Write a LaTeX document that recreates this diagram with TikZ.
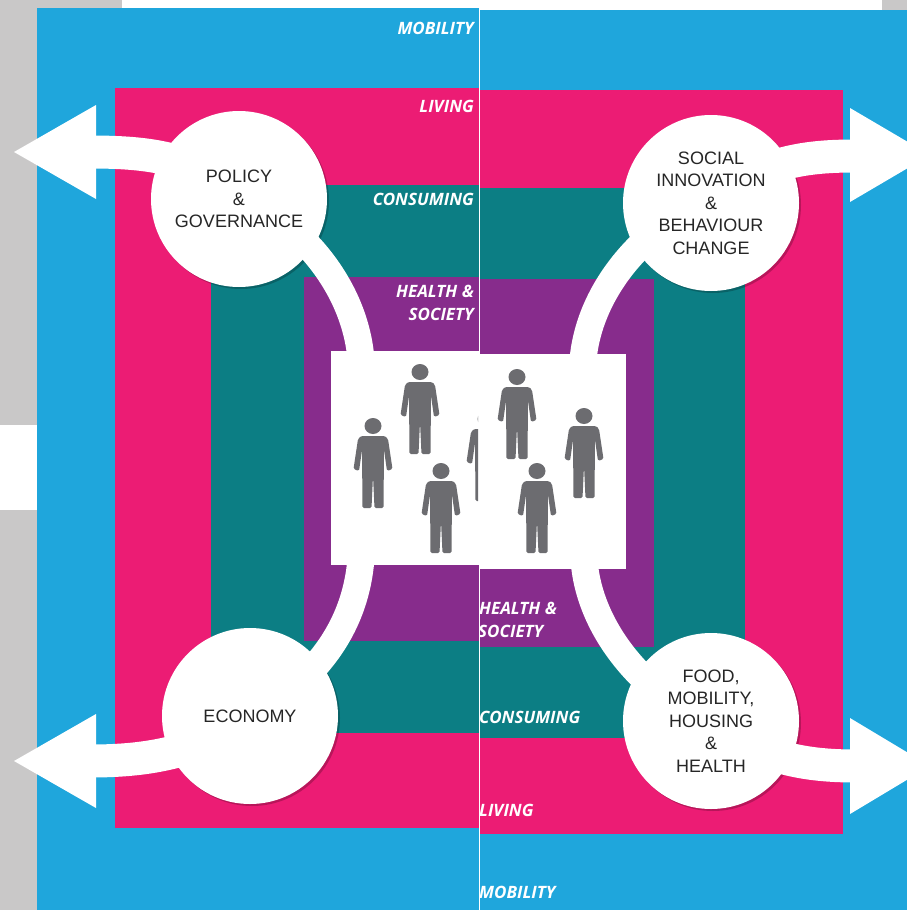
\documentclass[tikz,border=0pt]{standalone}
\usepackage{fontspec}
\setmainfont{Liberation Sans}
\newfontfamily\ringfont{Open Sans}
\pgfdeclarelayer{back}\pgfdeclarelayer{mid}
\pgfsetlayers{back,mid,main}
\definecolor{ringblue}{HTML}{1FA6DC}
\definecolor{ringpink}{HTML}{EC1C74}
\definecolor{ringteal}{HTML}{0C7E84}
\definecolor{ringpurple}{HTML}{872C8C}
\definecolor{margin}{HTML}{C9C8C8}
\definecolor{figure}{HTML}{6C6C70}
\tikzset{
  x=1pt,y=-1pt,
  topic/.style={circle,fill=white,minimum size=176pt,inner sep=0pt,align=center,text=black!85,
     font=\fontsize{18}{22.5}\selectfont},
  ringlabel/.style={text=white,inner sep=0pt,font=\ringfont\bfseries\itshape\fontsize{17}{23}\selectfont},
  band/.style={white,line width=27pt},
  shaft/.style={white,line width=33pt},
  head/.style={fill=white,draw=none},
  panel/.style={fill=white,draw=none,inner sep=0pt},
  pics/person/.style={code={
    \fill[figure] (0,0) ellipse (8.5 and 8);
    \fill[figure,rounded corners=1.5pt] (-12,10)--(12,10)--(15,13)--(19.5,43)--(14,45)--(11,24)--(10.5,82)--(1.5,82)--(0,50)--(-1.5,82)--(-10.5,82)--(-11,24)--(-14,45)--(-19.5,43)--(-15,13)--cycle;
  }}
}
\begin{document}
\begin{tikzpicture}
\useasboundingbox (0,0) rectangle (907,910);
\begin{pgfonlayer}{back}
  \fill[white] (0,0) rectangle (907,910);
  \fill[margin] (0,0) rectangle (37,425);
  \fill[margin] (0,510) rectangle (37,910);
  \fill[margin] (37,0) rectangle (122,9);
  \fill[margin] (882,0) rectangle (907,10);
  \fill[ringblue] (37,8) rectangle (479,910);
  \fill[ringblue] (479,10) rectangle (907,910);
  \fill[ringpink] (115,88) rectangle (479,828);
  \fill[ringpink] (479,90) rectangle (843,834);
  \fill[ringteal] (211,185) rectangle (479,733);
  \fill[ringteal] (479,188) rectangle (745,738);
  \fill[ringpurple] (304,277) rectangle (479,641);
  \fill[ringpurple] (479,279) rectangle (654,647);
\end{pgfonlayer}

\node[topic] (policy) at (239,199) {POLICY\\\&\\GOVERNANCE};
\node[topic] (social) at (711,203) {SOCIAL\\INNOVATION\\\&\\BEHAVIOUR\\CHANGE};
\node[topic] (economy) at (250,716) {ECONOMY};
\node[topic] (food) at (711,721) {FOOD,\\MOBILITY,\\HOUSING\\\&\\HEALTH};

\node[panel,minimum width=148pt,minimum height=214pt] (leftpanel) at (405,458) {};
\node[panel,minimum width=146pt,minimum height=215pt] (rightpanel) at (553,461.5) {};

\coordinate (tlband) at (361,360);
\coordinate (trband) at (583,360);
\coordinate (blband) at (361,558);
\coordinate (brband) at (584,560);
\coordinate (tlhead) at (90,152);
\coordinate (trhead) at (856,156);
\coordinate (blhead) at (90,761);
\coordinate (brhead) at (856,766);

\begin{pgfonlayer}{mid}
  \fill[black,opacity=.22] (241,201) circle (88);
  \fill[black,opacity=.22] (713,205) circle (88);
  \fill[black,opacity=.22] (252,718) circle (88);
  \fill[black,opacity=.22] (713,723) circle (88);
  \draw[band] (policy.center) .. controls (290,215) and (355,280) .. (tlband);
  \draw[band] (social.center) .. controls (660,215) and (590,280) .. (trband);
  \draw[band] (economy.center) .. controls (300,690) and (355,640) .. (blband);
  \draw[band] (food.center) .. controls (660,705) and (590,640) .. (brband);
  \draw[shaft] (policy.center) .. controls (200,158) and (150,152) .. (tlhead);
  \draw[shaft] (social.center) .. controls (760,160) and (810,156) .. (trhead);
  \draw[shaft] (economy.center) .. controls (200,752) and (150,761) .. (blhead);
  \draw[shaft] (food.center) .. controls (760,760) and (810,766) .. (brhead);
  \fill[head] (14,152) -- (96,105) -- (96,199) -- cycle;
  \fill[head] (930,155) -- (850,108) -- (850,202) -- cycle;
  \fill[head] (14,761) -- (96,714) -- (96,808) -- cycle;
  \fill[head] (930,766) -- (850,718) -- (850,814) -- cycle;
\end{pgfonlayer}

\pic at (420,372) {person};
\pic at (373,426) {person};
\pic at (441,471) {person};
\begin{scope}
  \clip (440,400) rectangle (478,510);
  \pic at (486,419) {person};
\end{scope}
\pic at (517,377) {person};
\pic at (584,416) {person};
\pic at (537,471) {person};

\node[ringlabel,anchor=east] (mobtop) at (474,28) {MOBILITY};
\node[ringlabel,anchor=east] (livtop) at (474,106) {LIVING};
\node[ringlabel,anchor=east] (contop) at (474,199) {CONSUMING};
\node[ringlabel,anchor=east] (heatop) at (474,291) {HEALTH \&};
\node[ringlabel,anchor=east] (soctop) at (474,314) {SOCIETY};
\begin{scope}
  \clip (479,590) rectangle (700,910);
  \node[ringlabel,anchor=west] (heabot) at (479,608) {HEALTH \&};
  \node[ringlabel,anchor=west] (socbot) at (478,631) {SOCIETY};
  \node[ringlabel,anchor=west] (conbot) at (479,717) {CONSUMING};
  \node[ringlabel,anchor=west] (livbot) at (479,810) {LIVING};
  \node[ringlabel,anchor=west] (mobbot) at (479,892) {MOBILITY};
\end{scope}
\fill[white] (479,0) rectangle (480,910);
\end{tikzpicture}
\end{document}
